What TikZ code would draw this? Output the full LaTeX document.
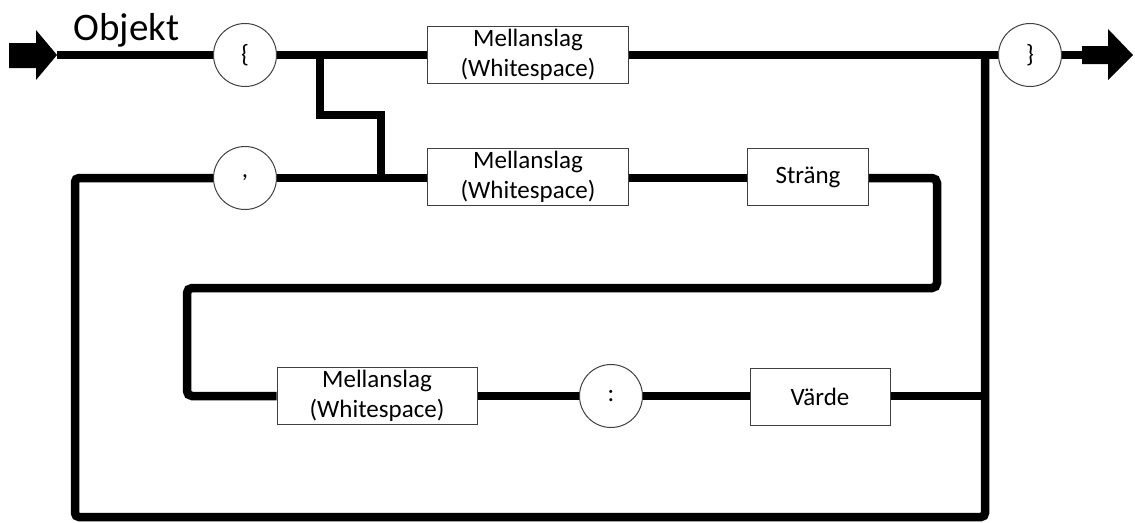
\documentclass[tikz,border=0pt]{standalone}
\usepackage{fontspec}
\setmainfont{Carlito}
\begin{document}
\begin{tikzpicture}[x=1pt,y=-1pt,
  conn/.style={line width=8.5pt, line join=miter},
  term/.style={circle, draw=black!75, line width=1pt, fill=white, minimum size=63pt, inner sep=0pt, font=\fontsize{25}{30}\selectfont},
  nonterm/.style={rectangle, draw=black!75, line width=1pt, fill=white, minimum height=57pt, inner sep=0pt, align=center, font=\fontsize{25}{29.5}\selectfont},
  blockarrow/.style={fill=black, draw=none}]
\useasboundingbox (0,0) rectangle (1135,522);

% nodes
\node[anchor=base west, font=\fontsize{39}{46}\selectfont] (title) at (70,40) {Objekt};
\node[term] (lbrace) at (245,55) {\{};
\node[nonterm, minimum width=201pt] (ws1) at (528,55) {Mellanslag\\(Whitespace)};
\node[term] (rbrace) at (1030,55) {\}};
\node[term] (comma) at (245,178) {,};
\node[nonterm, minimum width=201pt] (ws2) at (528,177) {Mellanslag\\(Whitespace)};
\node[nonterm, minimum width=121pt] (str) at (808,177) {Sträng};
\node[nonterm, minimum width=200pt] (ws3) at (377,396) {Mellanslag\\(Whitespace)};
\node[term] (colon) at (611,396) {:};
\node[nonterm, minimum width=140pt] (varde) at (820,397) {Värde};

% junction coordinates
\coordinate (in) at (57,55);
\coordinate (out) at (1082,55);
\coordinate (j1) at (320,55);
\coordinate (j2) at (381,178);
\coordinate (j3) at (985,396);
\coordinate (j4) at (985,55);

% entry / exit block arrows
\fill[blockarrow] (9,43) -- (36,43) -- (36,30) -- (in) -- (36,80) -- (36,68) -- (9,68) -- cycle;
\fill[blockarrow] (out) ++(0,-9) -- (1108,46) -- (1108,29) -- (1133,55) -- (1108,80) -- (1108,64) -- (1082,64) -- cycle;

% connectors
\draw[conn] (in) -- (lbrace.west);
\draw[conn] (lbrace.east) -- (ws1.west);
\draw[conn] (ws1.east) -- (rbrace.west);
\draw[conn] (rbrace.east) -- (out);
\draw[conn] (j1) -- (320,115) -- (381,115) -- (j2);
\draw[conn] (comma.east) -- (ws2.west |- comma.east);
\draw[conn] (ws2.east |- comma.east) -- (str.west |- comma.east);
\draw[conn, rounded corners=5pt] (str.east |- comma.east) -- (937,178) -- (937,288) -- (187,288) -- (187,396) -- (ws3.west);
\draw[conn] (ws3.east) -- (colon.west);
\draw[conn] (colon.east) -- (varde.west |- colon.east);
\draw[conn] (varde.east |- colon.east) -- (j3);
\draw[conn, rounded corners=4pt] (j4) -- (985,517) -- (75,517) -- (75,178) -- (comma.west);
\end{tikzpicture}
\end{document}
